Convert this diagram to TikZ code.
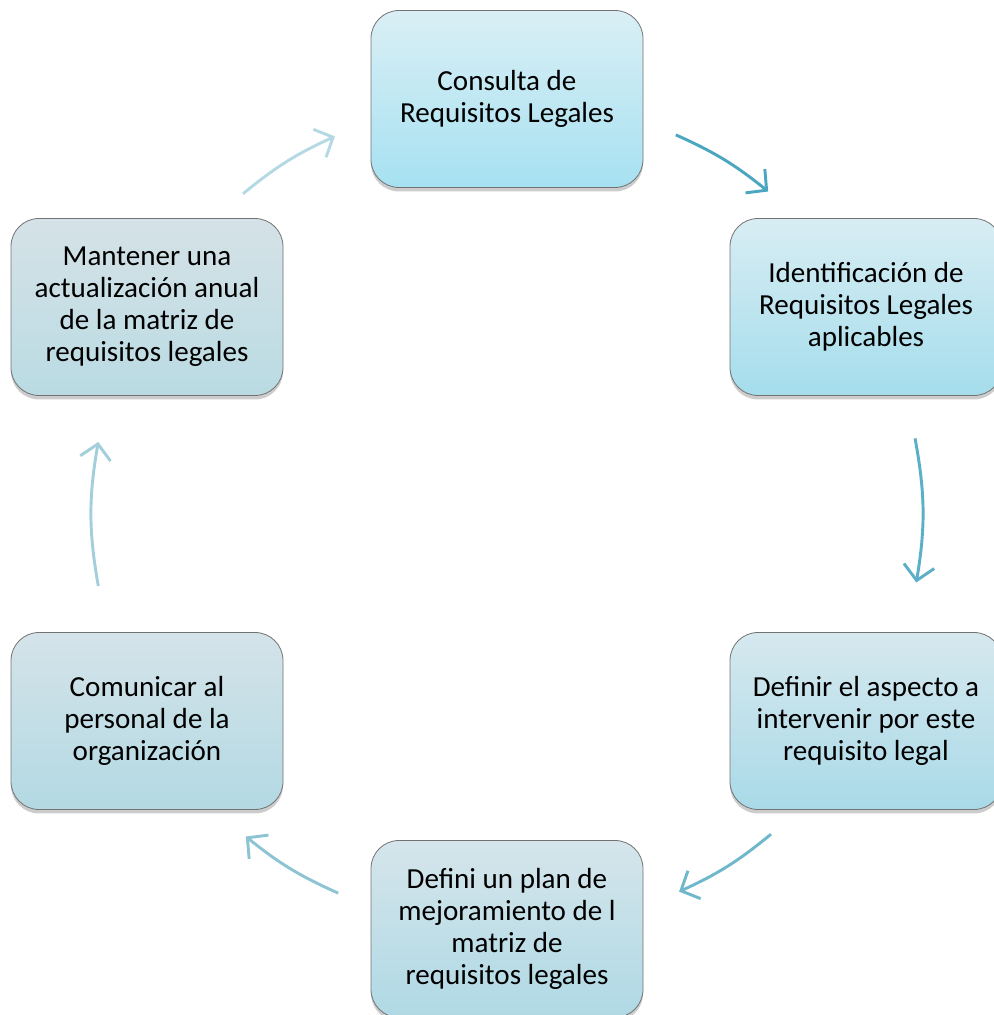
\documentclass[tikz,border=0pt]{standalone}
\usepackage{fontspec}
\setmainfont{Carlito}
\usetikzlibrary{positioning, arrows.meta, shadows}

\definecolor{topA}{HTML}{DAEFF5}\definecolor{botA}{HTML}{A6E1F1}
\definecolor{topB}{HTML}{D8EDF3}\definecolor{botB}{HTML}{A5DDEC}
\definecolor{topC}{HTML}{D6E8EE}\definecolor{botC}{HTML}{A9DAE8}
\definecolor{topD}{HTML}{D5E5EB}\definecolor{botD}{HTML}{AFD9E5}
\definecolor{topE}{HTML}{D4E3E9}\definecolor{botE}{HTML}{B3D9E3}
\definecolor{topF}{HTML}{D5E2E7}\definecolor{botF}{HTML}{BADBE3}
\definecolor{arrA}{HTML}{4BA7C1}\definecolor{arrB}{HTML}{5BAFC6}
\definecolor{arrC}{HTML}{6FB8CC}\definecolor{arrD}{HTML}{8CC4D4}
\definecolor{arrE}{HTML}{A3CFDB}\definecolor{arrF}{HTML}{B5D9E3}

\tikzset{
    stage/.style={rectangle, rounded corners=21pt, minimum width=204pt, minimum height=132.75pt, align=center, draw=black!55, line width=0.6pt, font=\fontsize{21.8}{24}\selectfont, drop shadow={shadow xshift=0pt, shadow yshift=-3pt, opacity=0.4}},
    cyclearrow/.style={line width=2.2pt, -{Straight Barb[length=11pt, width=23pt]}}
}

\begin{document}
\begin{tikzpicture}[x=0.75pt, y=0.75pt]

    \useasboundingbox (0,0) rectangle (994,1015);
    \clip (0,0) rectangle (994,1015);

    % Nodes
    \coordinate (centro) at (507,501);
    \node (consulta) [stage, top color=topA, bottom color=botA] at (507,916) {Consulta de\\Requisitos Legales};
    \node (identificacion) [stage, top color=topB, bottom color=botB] at (866,708) {Identificación de\\Requisitos Legales\\aplicables};
    \node (definir) [stage, top color=topC, bottom color=botC] at (866,294) {Definir el aspecto a\\intervenir por este\\requisito legal};
    \node (plan) [stage, top color=topD, bottom color=botD] at (507,86) {Defini un plan de\\mejoramiento de l\\matriz de\\requisitos legales};
    \node (comunicar) [stage, top color=topE, bottom color=botE] at (147,294) {Comunicar al\\personal de la\\organización};
    \node (mantener) [stage, top color=topF, bottom color=botF] at (147,708) {Mantener una\\actualización anual\\de la matriz de\\requisitos legales};

    % Arrow ends
    \coordinate (a1) at ([shift={(66:415)}]centro);
    \coordinate (b1) at ([shift={(51:415)}]centro);
    \coordinate (a2) at ([shift={(10.5:415)}]centro);
    \coordinate (b2) at ([shift={(-9.5:415)}]centro);
    \coordinate (a3) at ([shift={(-50.5:415)}]centro);
    \coordinate (b3) at ([shift={(-65.5:415)}]centro);
    \coordinate (a4) at ([shift={(-114:415)}]centro);
    \coordinate (b4) at ([shift={(-129:415)}]centro);
    \coordinate (a5) at ([shift={(-170:415)}]centro);
    \coordinate (b5) at ([shift={(170:415)}]centro);
    \coordinate (a6) at ([shift={(129.5:415)}]centro);
    \coordinate (b6) at ([shift={(114.5:415)}]centro);

    % Arrows
    \draw [cyclearrow, arrA] (a1) to[bend left=7.5] (b1);
    \draw [cyclearrow, arrB] (a2) to[bend left=10] (b2);
    \draw [cyclearrow, arrC] (a3) to[bend left=7.5] (b3);
    \draw [cyclearrow, arrD] (a4) to[bend left=7.5] (b4);
    \draw [cyclearrow, arrE] (a5) to[bend left=10] (b5);
    \draw [cyclearrow, arrF] (a6) to[bend left=7.5] (b6);

\end{tikzpicture}
\end{document}
